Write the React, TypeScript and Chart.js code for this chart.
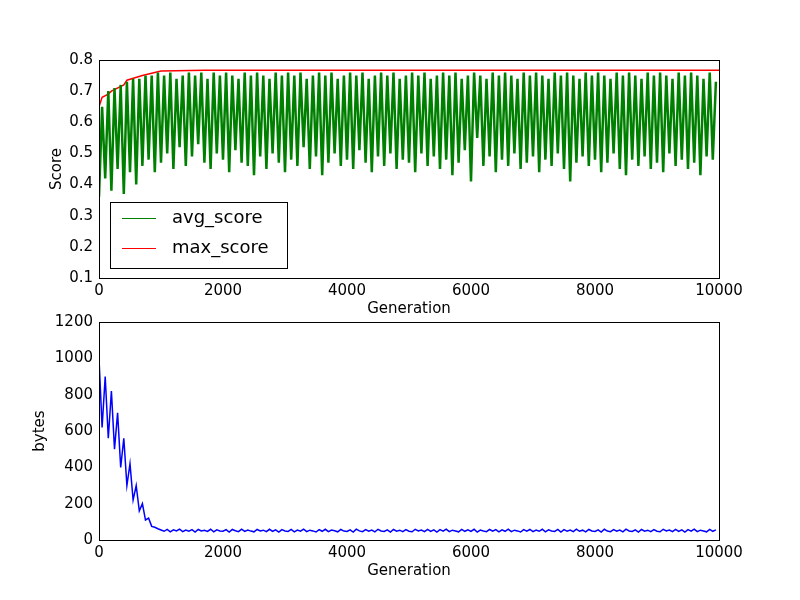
import React, { useEffect, useRef } from "react";
import { Chart, registerables } from "chart.js";
Chart.register(...registerables);

const GEN_STEP = 50;
const avgScore = [
  0.36,0.65,0.42,0.70,0.38,0.71,0.45,0.72,0.37,0.73,0.44,0.74,0.40,0.74,0.46,0.75,0.48,0.75,0.44,0.76,
  0.47,0.75,0.50,0.76,0.45,0.74,0.52,0.75,0.46,0.76,0.49,0.75,0.53,0.76,0.47,0.74,0.45,0.76,0.50,0.75,
  0.48,0.76,0.44,0.75,0.51,0.74,0.47,0.76,0.46,0.75,0.43,0.76,0.49,0.75,0.45,0.74,0.50,0.76,0.47,0.75,
  0.44,0.76,0.48,0.75,0.46,0.76,0.52,0.74,0.45,0.75,0.49,0.76,0.43,0.75,0.47,0.76,0.50,0.74,0.46,0.75,
  0.48,0.76,0.45,0.75,0.51,0.76,0.47,0.74,0.44,0.75,0.49,0.76,0.46,0.75,0.50,0.76,0.45,0.74,0.48,0.75,
  0.47,0.76,0.44,0.75,0.50,0.76,0.46,0.74,0.49,0.75,0.45,0.76,0.48,0.75,0.43,0.76,0.47,0.74,0.51,0.75,
  0.41,0.76,0.55,0.75,0.46,0.74,0.49,0.76,0.44,0.75,0.48,0.76,0.46,0.75,0.50,0.74,0.45,0.76,0.47,0.75,
  0.49,0.76,0.44,0.75,0.48,0.74,0.46,0.76,0.50,0.75,0.45,0.76,0.41,0.75,0.47,0.74,0.49,0.76,0.46,0.75,
  0.48,0.76,0.44,0.75,0.47,0.74,0.50,0.76,0.45,0.75,0.43,0.76,0.48,0.75,0.46,0.74,0.49,0.76,0.45,0.75,
  0.47,0.76,0.44,0.75,0.50,0.74,0.46,0.76,0.48,0.75,0.45,0.76,0.47,0.75,0.43,0.74,0.49,0.76,0.48,0.73,
];
const maxScoreGen = [0, 50, 150, 200, 400, 450, 700, 900, 1000, 1700, 10000];
const maxScore = [0.65, 0.68, 0.69, 0.70, 0.72, 0.735, 0.75, 0.76, 0.765, 0.767, 0.767];
const avgPrgSize = [
  1000,620,900,560,820,500,700,400,560,300,420,220,300,160,200,110,120,75,70,62,
  55,48,58,45,56,50,60,46,55,49,57,44,58,50,54,47,59,45,56,50,
  48,57,44,58,51,46,60,47,55,49,45,58,50,54,46,59,48,56,44,57,
  50,47,58,45,55,49,60,46,54,50,44,57,48,59,46,55,51,45,58,49,
  47,56,44,60,50,46,57,48,55,45,59,50,47,56,44,58,49,54,46,57,
  48,45,59,50,55,46,58,47,56,44,57,49,60,46,54,50,45,58,48,56,
  47,59,44,55,50,46,58,49,57,45,56,48,60,46,54,50,44,57,49,58,
  46,55,48,59,45,56,50,47,58,44,57,49,55,46,60,48,54,45,58,50,
  47,56,44,59,49,46,57,48,55,45,60,50,47,56,44,58,49,54,46,57,
  48,45,59,50,55,46,58,47,56,44,57,49,60,46,54,50,45,58,48,56,
];
const xTicks = [0, 2000, 4000, 6000, 8000, 10000];

const FONT = "'DejaVu Sans', sans-serif";

function makePlugin(items: { label: string; color: string }[], box: { x: number; y: number; w: number; h: number }) {
  return {
    id: "mplbox",
    afterDraw(chart: any) {
      const { ctx, chartArea: a } = chart;
      ctx.save();
      ctx.strokeStyle = "#000";
      ctx.lineWidth = 1;
      ctx.strokeRect(a.left + 0.5, a.top + 0.5, a.right - a.left, a.bottom - a.top);
      ctx.fillStyle = "#fff";
      ctx.fillRect(box.x, box.y, box.w, box.h);
      ctx.strokeRect(box.x + 0.5, box.y + 0.5, box.w, box.h);
      ctx.font = `18px ${FONT}`;
      ctx.textBaseline = "middle";
      items.forEach((it, i) => {
        const y = box.y + 16 + i * 30;
        ctx.strokeStyle = it.color;
        ctx.beginPath();
        ctx.moveTo(box.x + 12, y + 0.5);
        ctx.lineTo(box.x + 46, y + 0.5);
        ctx.stroke();
        ctx.fillStyle = "#000";
        ctx.fillText(it.label, box.x + 62, y);
      });
      ctx.restore();
    },
  };
}

function xScale(titlePadBottom: number, height: number) {
  return {
    type: "linear" as const,
    min: 0,
    max: 10000,
    grid: { display: false, drawTicks: false },
    border: { display: false },
    afterBuildTicks: (s: any) => { s.ticks = xTicks.map((v) => ({ value: v })); },
    afterFit: (s: any) => { s.height = height; },
    ticks: { color: "#000", font: { family: FONT, size: 15 }, padding: 4, maxRotation: 0, callback: (v: any) => String(v) },
    title: { display: true, text: "Generation", color: "#000", font: { family: FONT, size: 15 }, padding: { top: 0, bottom: titlePadBottom } },
  };
}

export default function App() {
  const r1 = useRef<HTMLCanvasElement>(null);
  const r2 = useRef<HTMLCanvasElement>(null);
  useEffect(() => {
    const c1 = new Chart(r1.current!, {
      type: "line",
      data: {
        datasets: [
          { label: "avg_score", data: avgScore.map((v, i) => ({ x: i * GEN_STEP, y: v })), borderColor: "#008000", borderWidth: 2.5, pointRadius: 0 },
          { label: "max_score", data: maxScore.map((v, i) => ({ x: maxScoreGen[i], y: v })), borderColor: "#ff0000", borderWidth: 1.5, pointRadius: 0 },
        ],
      },
      options: {
        animation: false, responsive: false, devicePixelRatio: 1,
        layout: { padding: { top: 60, right: 81, left: 0, bottom: 0 } },
        plugins: { legend: { display: false }, tooltip: { enabled: false } },
        scales: {
          x: xScale(2, 42),
          y: {
            min: 0.1, max: 0.8,
            grid: { display: false, drawTicks: false }, border: { display: false },
            afterFit: (s: any) => { s.width = 99; },
            ticks: { stepSize: 0.1, color: "#000", font: { family: FONT, size: 15 }, padding: 6, callback: (v: any) => Number(v).toFixed(1) },
            title: { display: true, text: "Score", color: "#000", font: { family: FONT, size: 15 }, padding: { top: 48, bottom: 0 } },
          },
        },
      },
      plugins: [makePlugin([{ label: "avg_score", color: "#008000" }, { label: "max_score", color: "#ff0000" }], { x: 110, y: 202, w: 177, h: 66 })],
    } as any);
    const c2 = new Chart(r2.current!, {
      type: "line",
      data: {
        datasets: [
          { label: "avg_prg_size", data: avgPrgSize.map((v, i) => ({ x: i * GEN_STEP, y: v })), borderColor: "#0000ff", borderWidth: 1.5, pointRadius: 0 },
        ],
      },
      options: {
        animation: false, responsive: false, devicePixelRatio: 1,
        layout: { padding: { top: 22, right: 81, left: 0, bottom: 0 } },
        plugins: { legend: { display: false }, tooltip: { enabled: false } },
        scales: {
          x: xScale(20, 60),
          y: {
            min: 0, max: 1200,
            grid: { display: false, drawTicks: false }, border: { display: false },
            afterFit: (s: any) => { s.width = 99; },
            ticks: { stepSize: 200, color: "#000", font: { family: FONT, size: 15 }, padding: 6, callback: (v: any) => String(v) },
            title: { display: true, text: "bytes", color: "#000", font: { family: FONT, size: 15 }, padding: { top: 31, bottom: 0 } },
          },
        },
      },
      plugins: [makePlugin([{ label: "avg_prg_size", color: "#0000ff" }], { x: 511, y: 332, w: 199, h: 36 })],
    } as any);
    return () => { c1.destroy(); c2.destroy(); };
  }, []);
  return (
    <div style={{ position: "absolute", left: 0, top: 0, width: 800, height: 600, background: "#fff" }}>
      <canvas ref={r1} width={800} height={320} style={{ position: "absolute", left: 0, top: 0 }} />
      <canvas ref={r2} width={800} height={300} style={{ position: "absolute", left: 0, top: 300 }} />
    </div>
  );
}
